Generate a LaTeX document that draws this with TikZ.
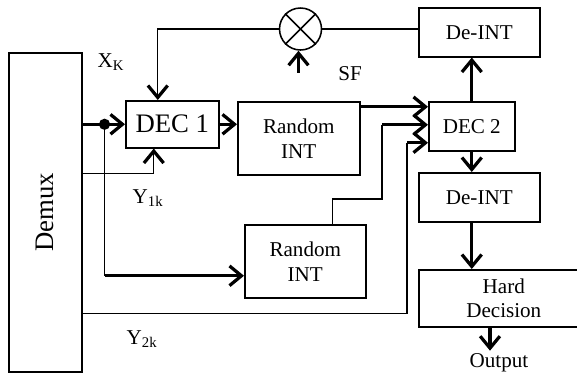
\documentclass[tikz,border=0pt]{standalone}
\usepackage{fontspec}
\setmainfont{Liberation Serif}
\usepackage{graphicx}
\usetikzlibrary{arrows.meta, calc}

\begin{document}
\begin{tikzpicture}[x=0.025cm, y=-0.025cm,
    font=\fontsize{15}{17.7}\selectfont,
    % Define the styles for the blocks and the wires
    box/.style 2 args={draw, line width=1.1pt, inner sep=0pt, align=center,
        anchor=north west, minimum width=#1*0.025cm, minimum height=#2*0.025cm},
    wire/.style={line width=0.9pt},
    thickwire/.style={line width=2.3pt},
    tip/.style={-{Straight Barb[length=8.5pt, width=14pt, line width=2.3pt]}},
    lbl/.style={inner sep=2pt}
]
\useasboundingbox (0,0) rectangle (577,377);

% Define the blocks
\node (demux) [box={73}{319}] at (8,52) {\fontsize{19}{20}\selectfont\rotatebox{90}{Demux}};
\node (dec1) [box={93}{47}] at (125,100) {\fontsize{19}{20}\selectfont DEC 1};
\node (rint1) [box={122}{73}] at (237,101) {Random\\INT};
\node (rint2) [box={121}{73}] at (244,224) {Random\\INT};
\node (dec2) [box={86}{49}] at (428,101) {DEC 2};
\node (deint1) [box={121}{49}] at (418,7) {De-INT};
\node (deint2) [box={121}{49}] at (418,172) {De-INT};
\node (hard) [box={170}{57}, text width=162*0.025cm] at (418,269) {Hard\\Decision};
\node (mult) [circle, draw, line width=1.1pt, inner sep=0pt, minimum size=42*0.025cm] at (300.5,29) {};
\draw[line width=1.1pt] (mult.north west) -- (mult.south east);
\draw[line width=1.1pt] (mult.north east) -- (mult.south west);

% Add the labels
\node (xk) at (111,62) [lbl] {X\textsubscript{K}};
\node (y1k) at (148,198) [lbl] {Y\textsubscript{1k}};
\node (y2k) at (142,339) [lbl] {Y\textsubscript{2k}};
\node (sf) at (350,74) [lbl] {SF};
\node (out) at (499,363) [lbl] {Output};

% Define the points where the wires turn
\coordinate (split) at ($(dec1.west -| demux.east)+(22,0)$);
\coordinate (y1in) at ($(rint2.west)+(0,14.5)$);
\coordinate (y1kout) at ($(demux.east)+(0,-38.5)$);
\coordinate (dec1in) at ($(dec1.south)+(-18.5,0)$);
\coordinate (dec1fb) at ($(dec1.north)+(-14.5,0)$);
\coordinate (sfin) at ($(mult.south)+(-2,22)$);
\coordinate (dec2a) at ($(dec2.west)+(0,-19.5)$);
\coordinate (dec2b) at ($(dec2.west)+(0,-1.5)$);
\coordinate (dec2c) at ($(dec2.west)+(0,16.5)$);
\coordinate (rint2out) at ($(rint2.north)+(27.5,0)$);
\coordinate (bend) at (382,199);
\coordinate (y2kout) at ($(demux.east)+(0,101.5)$);
\coordinate (y2kturn) at ($(dec2c)+(-21,0)$);
\coordinate (hardout) at (490,326);

% Draw the wires into DEC 1
\draw[thickwire, tip] (dec1.west -| demux.east) -- (dec1.west);
\fill (split) circle (4pt);
\draw[wire] (split) -- (split |- y1in);
\draw[thickwire, tip] (split |- y1in) -- (y1in);
\draw[wire, tip] (y1kout) -| (dec1in);
\draw[wire, tip] (mult.west) -| (dec1fb);
\draw[wire] (mult.east) -- (mult.east -| deint1.west);
\draw[thickwire, tip] (sfin) -- (sfin |- mult.south);

% Draw the wires into DEC 2
\draw[thickwire, tip] (dec1.east) -- (dec1.east -| rint1.west);
\draw[thickwire, tip] (dec2a -| rint1.east) -- (dec2a);
\draw[wire] (rint2out) |- (bend) -- (bend |- dec2b);
\draw[thickwire, tip] (bend |- dec2b) -- (dec2b);
\draw[wire] (y2kout) -| (y2kturn);
\draw[thickwire, tip] (y2kturn) -- (dec2c);

% Draw the outputs of DEC 2
\draw[thickwire, tip] (dec2.north) -- (dec2.north |- deint1.south);
\draw[thickwire, tip] (dec2.south) -- (dec2.south |- deint2.north);
\draw[thickwire, tip] (dec2.south |- deint2.south) -- (dec2.south |- hard.north);
\draw[thickwire, tip] (hardout) -- (hardout |- out.north);

\end{tikzpicture}
\end{document}
